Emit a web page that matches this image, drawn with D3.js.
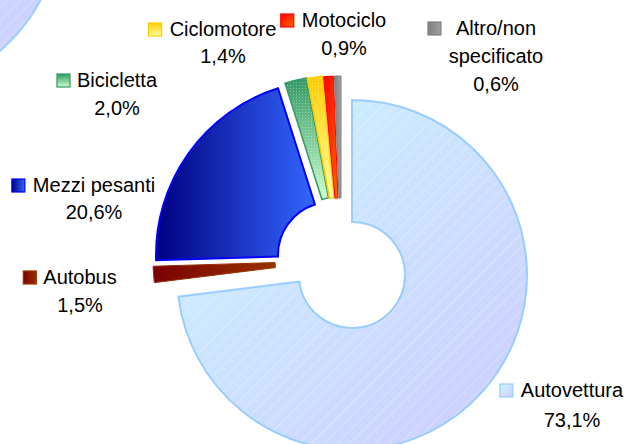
<!DOCTYPE html>
<html>
<head>
<meta charset="utf-8">
<script src="https://cdn.jsdelivr.net/npm/d3@7/dist/d3.min.js"></script>
<style>
html,body{margin:0;padding:0;background:#fff;}
svg{display:block;}
text{font-family:"Liberation Sans",Arial,sans-serif;font-size:20px;fill:#000;}
</style>
</head>
<body>
<svg id="chart" width="630" height="444"></svg>
<script>
// ---- data ----
const categories = ["Autovettura","Autobus","Mezzi pesanti","Bicicletta","Ciclomotore","Motociclo","Altro/non specificato"];
const values = [73.1, 1.5, 20.6, 2.0, 1.4, 0.9, 0.6];
const valueLabels = ["73,1%","1,5%","20,6%","2,0%","1,4%","0,9%","0,6%"];
const labelLines = [["Autovettura"],["Autobus"],["Mezzi pesanti"],["Bicicletta"],["Ciclomotore"],["Motociclo"],["Altro/non","specificato"]];

// ---- layout / style ----
const W = 630, H = 444;
const cx = 340, cy = 264, rOuter = 175, rInner = 53;
// explosion offsets of each slice from the common centre
const explodeOffsets = [[12,11],[-12,-3],[-9,-9],[-2,-14],[-1,-13.5],[0,-13],[1,-13]];
const labelPos = [
  {x:572, y:397, lh:30, gap:7},
  {x:80,  y:284, lh:28, gap:6},
  {x:94,  y:192, lh:27, gap:7},
  {x:117, y:87,  lh:28, gap:6},
  {x:223, y:36,  lh:27, gap:7},
  {x:344, y:27,  lh:28, gap:7},
  {x:496, y:35,  lh:28, gap:14}
];
const styles = [
  {g:["#ccf6ff","#ccccff"], dir:[0,0,1,1], stroke:"#99ccff", sw:2, hatch:"diag"},
  {g:["#7a0000","#993300"], dir:[0,0,1,0], stroke:"#993300", sw:1, hatch:null},
  {g:["#000080","#3366ff"], dir:[0,0,1,0], stroke:"#0000ff", sw:2, hatch:null},
  {g:["#339966","#ccffcc"], dir:[0,0,0,1], stroke:"#339966", sw:1.5, hatch:"cross"},
  {g:["#ffcc00","#ffff99"], dir:[0,0,0,1], stroke:"#ffcc00", sw:1.5, hatch:"cross"},
  {g:["#ff0000","#ff6600"], dir:[0,0,1,1], stroke:"#ff0000", sw:1, hatch:null},
  {g:["#808080","#a0a0a0"], dir:[0,0,1,0], stroke:"#808080", sw:1, hatch:null}
];

const svg = d3.select("#chart");
const defs = svg.append("defs");

styles.forEach((s,i)=>{
  const lg = defs.append("linearGradient").attr("id","grad"+i)
    .attr("x1",s.dir[0]).attr("y1",s.dir[1]).attr("x2",s.dir[2]).attr("y2",s.dir[3]);
  lg.append("stop").attr("offset",0).attr("stop-color",s.g[0]);
  lg.append("stop").attr("offset",1).attr("stop-color",s.g[1]);
});
// hatch patterns
const pd = defs.append("pattern").attr("id","hatchDiag").attr("patternUnits","userSpaceOnUse")
  .attr("width",9).attr("height",9).attr("patternTransform","rotate(45)");
pd.append("line").attr("x1",0).attr("y1",0).attr("x2",0).attr("y2",9)
  .attr("stroke","#ffffff").attr("stroke-opacity",0.55).attr("stroke-width",1);
const pc = defs.append("pattern").attr("id","hatchCross").attr("patternUnits","userSpaceOnUse")
  .attr("width",3).attr("height",3);
pc.append("rect").attr("width",1).attr("height",1).attr("fill","#ffffff").attr("fill-opacity",0.35);

const pie = d3.pie().sort(null).value(d=>d).startAngle(0).endAngle(2*Math.PI);
const arcs = pie(values);
const arc = d3.arc().innerRadius(rInner).outerRadius(rOuter);

// decorative fragment in the top-left corner (leftover slice copy)
const frag = svg.append("g").attr("transform",`translate(${cx-454},${cy-346})`);
frag.append("path").attr("d", arc(arcs[0]))
  .attr("fill","url(#grad0)").attr("stroke","#99ccff").attr("stroke-width",2);
frag.append("path").attr("d", arc(arcs[0])).attr("fill","url(#hatchDiag)");

const g = svg.append("g").attr("transform",`translate(${cx},${cy})`);
arcs.forEach((a,i)=>{
  const [dx,dy] = explodeOffsets[i];
  const sg = g.append("g").attr("transform",`translate(${dx},${dy})`);
  const s = styles[i];
  sg.append("path").attr("d",arc(a)).attr("fill",`url(#grad${i})`);
  if (s.hatch) sg.append("path").attr("d",arc(a)).attr("fill", s.hatch==="diag"?"url(#hatchDiag)":"url(#hatchCross)");
  sg.append("path").attr("d",arc(a)).attr("fill","none").attr("stroke",s.stroke)
    .attr("stroke-width",s.sw).attr("stroke-linejoin","miter");
});

// labels
const lab = svg.append("g");
categories.forEach((c,i)=>{
  const p = labelPos[i];
  const lines = labelLines[i].concat([valueLabels[i]]);
  let firstStart = null;
  lines.forEach((t,k)=>{
    const tx = lab.append("text").attr("x",p.x).attr("y",p.y+k*p.lh)
      .attr("text-anchor","middle").text(t);
    if (k===0) firstStart = tx.node().getBBox().x;
  });
  const ks = 14;
  const kx = firstStart - p.gap - ks, ky = p.y - 13;
  lab.append("rect").attr("x",kx).attr("y",ky).attr("width",ks-1).attr("height",ks-1)
    .attr("fill",`url(#grad${i})`).attr("stroke",styles[i].stroke).attr("stroke-width",1.2);
});
</script>
</body>
</html>
